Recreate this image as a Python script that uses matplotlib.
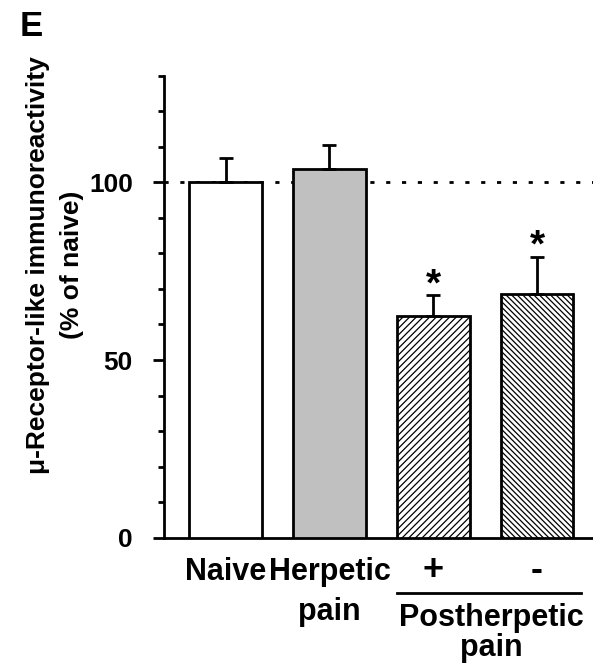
import matplotlib.pyplot as plt
import numpy as np

plt.rcParams['font.family'] = ['Liberation Sans', 'DejaVu Sans']
plt.rcParams['font.weight'] = 'bold'
plt.rcParams['hatch.linewidth'] = 0.9

groups = ['Naive', 'Herpetic\npain', '+', '-']
means = [100.0, 103.8, 62.3, 68.7]
sems = [6.8, 6.6, 5.9, 10.3]
significant = [False, False, True, True]
fills = ['white', '#c0c0c0', 'white', 'white']
hatches = ['', '', '/////', '\\\\\\\\\\\\']

fig = plt.figure(figsize=(5.93, 6.68), dpi=100)
ax = fig.add_axes([163.5 / 593, 1 - 537.7 / 668, 1 - 163.5 / 593, (537.7 - 75.7) / 668])

x = np.arange(len(means))
ax.bar(x, means, width=0.7, color=fills, edgecolor='black', linewidth=2,
       hatch=hatches, zorder=3)
ax.errorbar(x, means, yerr=[np.zeros(len(sems)), sems], fmt='none',
            ecolor='black', elinewidth=2, capsize=5, capthick=2, zorder=4)
for xi, m, s, sig in zip(x, means, sems, significant):
    if sig:
        ax.text(xi, m + s, '*', ha='center', va='baseline', fontsize=28,
                fontweight='bold')

ax.axhline(100, color='black', linestyle=(0, (1.5, 4.2)), linewidth=2, zorder=2)

ax.set_xlim(-0.6, 3.54)
ax.set_ylim(0, 130)
ax.set_yticks([0, 50, 100])
ax.set_yticks(np.arange(0, 131, 10), minor=True)
ax.tick_params(axis='y', which='major', length=8, width=2, labelsize=19, pad=14)
ax.tick_params(axis='y', which='minor', length=4, width=2)
ax.set_xticks([])
for side in ['top', 'right']:
    ax.spines[side].set_visible(False)
for side in ['left', 'bottom']:
    ax.spines[side].set_linewidth(2)

fig.text(55 / 593, 1 - 265 / 668, '\u03bc-Receptor-like immunoreactivity\n(% of naive)',
         rotation=90, ha='center', va='center', fontsize=19, fontweight='bold',
         linespacing=1.5)

# group labels under the bars, one text per line so baselines can be set
line_y = [-11.9, -23.2]
for xi, lab in zip(x, groups):
    fs = 26 if lab in ['+', '-'] else 22
    for k, part in enumerate(lab.split('\n')):
        ax.text(xi, line_y[k], part, ha='center', va='baseline', fontsize=fs,
                fontweight='bold', clip_on=False)

ax.plot([1.655, 3.424], [-15.6, -15.6], color='black', linewidth=2, clip_on=False)
ax.text(2.56, -18.4, 'Postherpetic\npain', ha='center', va='top', fontsize=22,
        fontweight='bold', linespacing=1.0, multialignment='center', clip_on=False)

fig.text(20 / 593, 1 - 26.5 / 668, 'E', fontsize=25, fontweight='bold',
         ha='left', va='center')

fig.savefig('out.png', dpi=100)
